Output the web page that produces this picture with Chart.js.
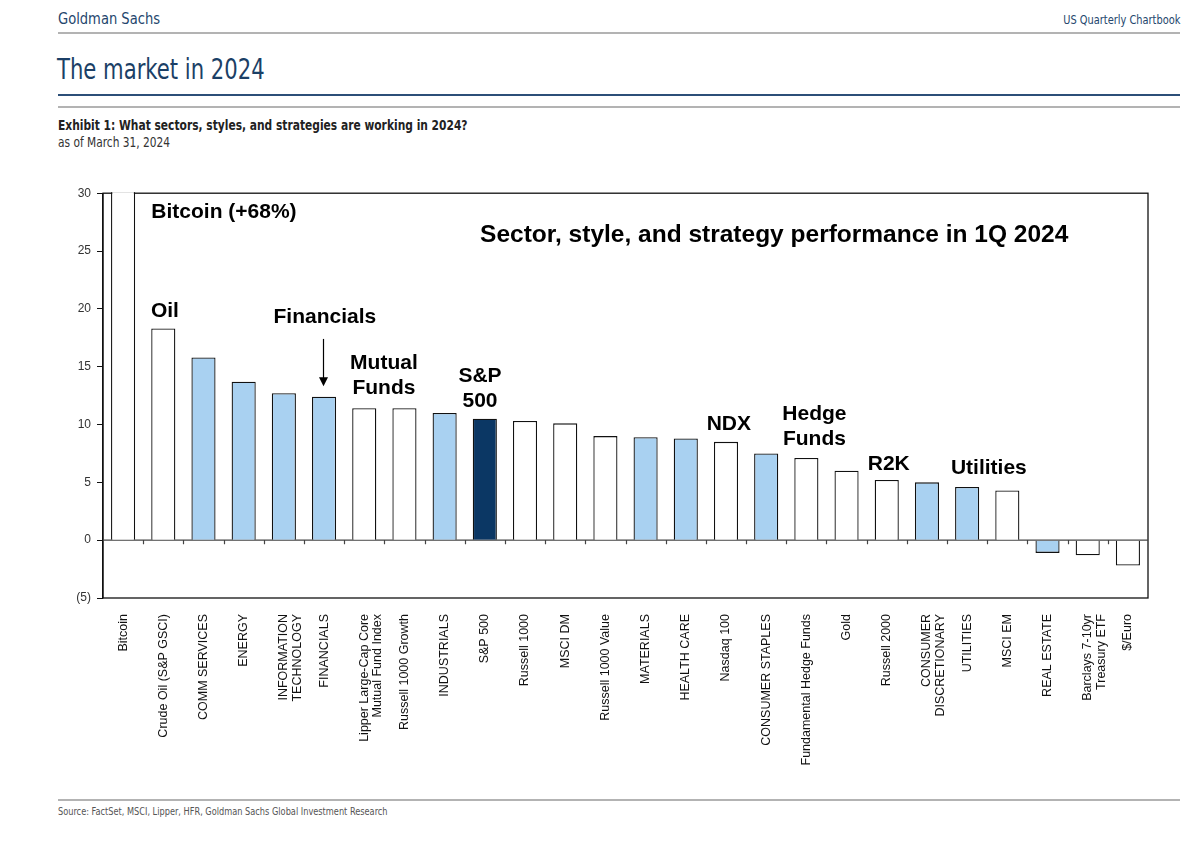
<!DOCTYPE html>
<html>
<head>
<meta charset="utf-8">
<script src="https://cdn.jsdelivr.net/npm/chart.js@4.4.1/dist/chart.umd.min.js"></script>
<style>
  body { margin: 0; background: #fff; width: 1204px; height: 856px; position: relative; overflow: hidden; }
  .narrow { font-family: "Liberation Sans Narrow", "DejaVu Sans Condensed", "Roboto", sans-serif; position: absolute; white-space: nowrap; transform-origin: left center; }
  .rule { position: absolute; left: 58px; width: 1122px; }
  #wrap { position: absolute; left: 40px; top: 180px; width: 1118px; height: 600px; }
</style>
</head>
<body>
<div class="narrow" style="left:58px; top:9px; font-size:16px; color:#24466d; transform:scaleX(0.91);">Goldman Sachs</div>
<div class="narrow" style="right:24px; top:12px; font-size:13px; color:#24466d; transform-origin:right center; transform:scaleX(0.84);">US Quarterly Chartbook</div>
<div class="rule" style="top:32px; height:2px; background:#b3b3b3;"></div>
<div class="narrow" style="left:57px; top:53px; font-size:28px; color:#1b3f66; transform:scaleX(0.84);">The market in 2024</div>
<div class="rule" style="top:94px; height:1.5px; background:#2c4f78;"></div>
<div class="rule" style="top:106px; height:2px; background:#b3b3b3;"></div>
<div class="narrow" style="left:58px; top:117px; font-size:13.5px; font-weight:bold; color:#222; transform:scaleX(0.88);">Exhibit 1: What sectors, styles, and strategies are working in 2024?</div>
<div class="narrow" style="left:58px; top:134px; font-size:13.5px; color:#333; transform:scaleX(0.875);">as of March 31, 2024</div>
<div id="wrap"><canvas id="chart"></canvas></div>
<div class="rule" style="top:799px; height:1.5px; background:#b3b3b3;"></div>
<div class="narrow" style="left:58px; top:805px; font-size:11px; color:#555; transform:scaleX(0.83);">Source: FactSet, MSCI, Lipper, HFR, Goldman Sachs Global Investment Research</div>

<script>
// Catégories, valeurs (% 1T 2024) et type de chaque barre
const categories = [
    "Bitcoin", "Crude Oil (S&P GSCI)", "COMM SERVICES", "ENERGY", ["INFORMATION", "TECHNOLOGY"],
    "FINANCIALS", ["Lipper Large-Cap Core", "Mutual Fund Index"], "Russell 1000 Growth", "INDUSTRIALS",
    "S&P 500", "Russell 1000", "MSCI DM", "Russell 1000 Value", "MATERIALS", "HEALTH CARE",
    "Nasdaq 100", "CONSUMER STAPLES", "Fundamental Hedge Funds", "Gold", "Russell 2000",
    ["CONSUMER", "DISCRETIONARY"], "UTILITIES", "MSCI EM", "REAL ESTATE",
    ["Barclays 7-10yr", "Treasury ETF"], "$/Euro"
];
const returns = [68, 18.3, 15.8, 13.7, 12.7, 12.4, 11.4, 11.4, 11.0, 10.5, 10.3, 10.1, 9.0, 8.9, 8.8,
    8.5, 7.5, 7.1, 6.0, 5.2, 5.0, 4.6, 4.3, -1.1, -1.3, -2.2];
const groups = ["other", "other", "sector", "sector", "sector", "sector", "other", "other", "sector",
    "benchmark", "other", "other", "other", "sector", "sector", "other", "sector", "other", "other",
    "other", "sector", "sector", "other", "sector", "other", "other"];
const yTicks = [-5, 0, 5, 10, 15, 20, 25, 30];

// Annotations : texte, index de catégorie, valeur y du centre, taille
const notes = [
    { text: ["Bitcoin (+68%)"], at: 2.51, y: 28.4, size: 21 },
    { text: ["Sector, style, and strategy performance in 1Q 2024"], at: 16.2, y: 26.4, size: 24.5 },
    { text: ["Oil"], at: 1.04, y: 19.8, size: 21 },
    { text: ["Financials"], at: 5.02, y: 19.3, size: 21 },
    { text: ["Mutual", "Funds"], at: 6.49, y: 14.2, size: 21 },
    { text: ["S&P", "500"], at: 8.88, y: 13.06, size: 21 },
    { text: ["NDX"], at: 15.07, y: 10.0, size: 21 },
    { text: ["Hedge", "Funds"], at: 17.2, y: 9.78, size: 21 },
    { text: ["R2K"], at: 19.05, y: 6.55, size: 21 },
    { text: ["Utilities"], at: 21.54, y: 6.2, size: 21 }
];
const arrow = { at: 5, from: 17.4, to: 13.3 };

const fillFor = { sector: "#a9d1f1", other: "#ffffff", benchmark: "#0b3764" };

const framePlugin = {
    id: "frame",
    beforeDatasetsDraw(chart) {
        const { ctx, chartArea: a, scales } = chart;
        const y0 = scales.y.getPixelForValue(0);
        const step = (a.right - a.left) / categories.length;
        ctx.save();
        ctx.strokeStyle = "#111";
        ctx.lineWidth = 1.3;
        ctx.strokeRect(a.left, a.top, a.right - a.left, a.bottom - a.top);
        ctx.strokeStyle = "#444";
        ctx.lineWidth = 1.2;
        ctx.beginPath();
        ctx.moveTo(a.left, y0);
        ctx.lineTo(a.right, y0);
        for (let i = 1; i < categories.length; i++) {
            const x = Math.round(a.left + i * step) + 0.5;
            ctx.moveTo(x, y0);
            ctx.lineTo(x, y0 + 4);
        }
        ctx.stroke();
        ctx.restore();
    },
    afterDatasetsDraw(chart) {
        const { ctx, scales } = chart;
        ctx.save();
        ctx.fillStyle = "#000";
        ctx.textAlign = "center";
        ctx.textBaseline = "middle";
        const lh = 25;
        notes.forEach(n => {
            ctx.font = "bold " + n.size + "px 'Liberation Sans', Arial, sans-serif";
            const x = scales.x.getPixelForValue(n.at);
            const yc = scales.y.getPixelForValue(n.y);
            n.text.forEach((line, k) => {
                ctx.fillText(line, x, yc + (k - (n.text.length - 1) / 2) * lh);
            });
        });
        // flèche Financials
        const ax = Math.round(scales.x.getPixelForValue(arrow.at)) - 0.5;
        const ya = scales.y.getPixelForValue(arrow.from);
        const yb = scales.y.getPixelForValue(arrow.to);
        ctx.strokeStyle = "#000";
        ctx.lineWidth = 1.2;
        ctx.beginPath();
        ctx.moveTo(ax, ya);
        ctx.lineTo(ax, yb - 6);
        ctx.stroke();
        ctx.beginPath();
        ctx.moveTo(ax - 4.5, yb - 9);
        ctx.lineTo(ax + 4.5, yb - 9);
        ctx.lineTo(ax, yb);
        ctx.closePath();
        ctx.fill();
        ctx.restore();
    }
};

new Chart(document.getElementById("chart"), {
    type: "bar",
    data: {
        labels: categories,
        datasets: [{
            data: returns,
            backgroundColor: groups.map(g => fillFor[g]),
            borderColor: "#111",
            borderWidth: 1.3,
            borderSkipped: "start",
            categoryPercentage: 1,
            barPercentage: 0.6,
            clip: { left: 5, top: 1, right: 5, bottom: 0 }
        }]
    },
    options: {
        responsive: true,
        maintainAspectRatio: false,
        animation: false,
        layout: { padding: { top: 12, right: 10 } },
        plugins: { legend: { display: false }, tooltip: { enabled: false } },
        scales: {
            x: {
                grid: { display: false },
                border: { display: false },
                afterFit: s => { s.height = 182; },
                ticks: {
                    autoSkip: false,
                    maxRotation: 90,
                    minRotation: 90,
                    padding: 8,
                    color: "#111",
                    font: { family: "'Liberation Sans', Arial, sans-serif", size: 12.5, lineHeight: 1.1 }
                }
            },
            y: {
                min: -5,
                max: 30,
                afterFit: s => { s.width = 63; },
                afterBuildTicks: s => { s.ticks = yTicks.map(v => ({ value: v })); },
                grid: { drawOnChartArea: false, drawTicks: true, tickLength: 6, color: "#111" },
                border: { display: true, color: "#111", width: 1.3 },
                ticks: {
                    padding: 6,
                    color: "#333",
                    font: { family: "'Liberation Sans', Arial, sans-serif", size: 12 },
                    callback: v => v < 0 ? "(" + (-v) + ")" : String(v)
                }
            }
        }
    },
    plugins: [framePlugin]
});
</script>
</body>
</html>
